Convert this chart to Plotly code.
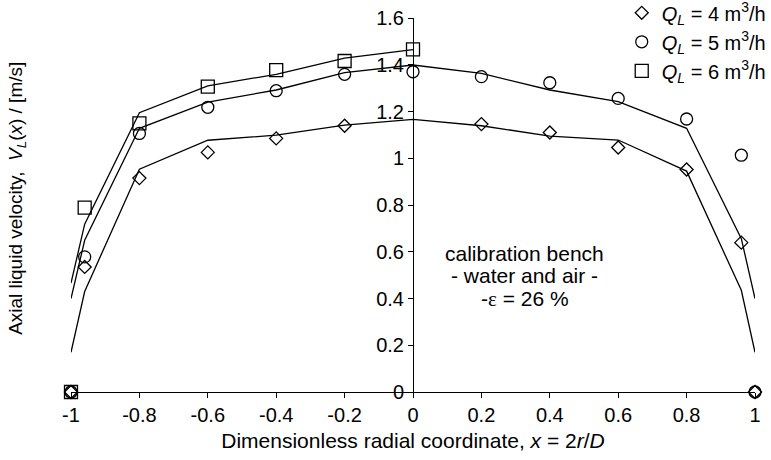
import plotly.graph_objects as go

FONT = "Liberation Sans, Arial, sans-serif"

# ---- data ----
q4_x = [-1, -0.96, -0.8, -0.6, -0.4, -0.2, 0.2, 0.4, 0.6, 0.8, 0.96, 1]
q4_y = [0, 0.535, 0.915, 1.025, 1.085, 1.139, 1.146, 1.110, 1.046, 0.952, 0.639, 0]

q5_x = [-1, -0.96, -0.8, -0.6, -0.4, -0.2, 0, 0.2, 0.4, 0.6, 0.8, 0.96, 1]
q5_y = [0, 0.578, 1.106, 1.218, 1.289, 1.359, 1.370, 1.349, 1.323, 1.256, 1.168, 1.013, 0]

q6_x = [-1, -0.96, -0.8, -0.6, -0.4, -0.2, 0]
q6_y = [0, 0.789, 1.149, 1.306, 1.377, 1.416, 1.466]

# model curves
line_x = [-1, -0.96, -0.8, -0.6, -0.4, -0.2, 0, 0.2, 0.4, 0.6, 0.8, 0.96, 1]
line4_y = [0.17, 0.43, 0.953, 1.077, 1.099, 1.142, 1.166, 1.139, 1.095, 1.078, 0.945, 0.435, 0.17]
line5_y = [0.40, 0.649, 1.128, 1.240, 1.292, 1.366, 1.399, 1.363, 1.292, 1.242, 1.128, 0.656, 0.40]
line6_x = [-1, -0.96, -0.8, -0.6, -0.4, -0.2, 0]
line6_y = [0.466, 0.718, 1.195, 1.310, 1.359, 1.428, 1.465]

x_tickvals = [-1, -0.8, -0.6, -0.4, -0.2, 0, 0.2, 0.4, 0.6, 0.8, 1]
x_ticktext = ["-1", "-0.8", "-0.6", "-0.4", "-0.2", "0", "0.2", "0.4", "0.6", "0.8", "1"]
y_tickvals = [0, 0.2, 0.4, 0.6, 0.8, 1, 1.2, 1.4, 1.6]
y_ticktext = ["0", "0.2", "0.4", "0.6", "0.8", "1", "1.2", "1.4", "1.6"]

series_names = [
    "<i>Q</i><sub><i>L</i></sub> = 4 m<sup>3</sup>/h",
    "<i>Q</i><sub><i>L</i></sub> = 5 m<sup>3</sup>/h",
    "<i>Q</i><sub><i>L</i></sub> = 6 m<sup>3</sup>/h",
]
note_lines = ["calibration bench", "- water and air -",
              "-<span style=\"font-family:'Liberation Serif', serif\">ε</span> = 26 %"]
note_y = [0.593, 0.499, 0.40]

fig = go.Figure()

line_style = dict(color="black", width=1.3)
for lx, ly in [(line_x, line4_y), (line_x, line5_y), (line6_x, line6_y)]:
    fig.add_trace(go.Scatter(x=lx, y=ly, mode="lines", line=line_style,
                             showlegend=False, hoverinfo="skip"))

mk_line = dict(color="black", width=1.3)
fig.add_trace(go.Scatter(x=q4_x, y=q4_y, mode="markers", name=series_names[0],
                         marker=dict(symbol="diamond-open", size=10, color="black", line=mk_line),
                         cliponaxis=False))
fig.add_trace(go.Scatter(x=q5_x, y=q5_y, mode="markers", name=series_names[1],
                         marker=dict(symbol="circle-open", size=12, color="black", line=mk_line),
                         cliponaxis=False))
fig.add_trace(go.Scatter(x=q6_x, y=q6_y, mode="markers", name=series_names[2],
                         marker=dict(symbol="square-open", size=13, color="black", line=mk_line),
                         cliponaxis=False))

for t, yy in zip(note_lines, note_y):
    fig.add_annotation(x=0.327, y=yy, xref="x", yref="y", text=t, showarrow=False,
                       font=dict(size=21, color="black", family=FONT),
                       xanchor="center", yanchor="middle")

fig.add_annotation(x=-0.079, y=0.519, xref="paper", yref="paper",
                   text="Axial liquid velocity,  <i>V</i><sub><i>L</i></sub>(<i>x</i>) / [m/s]",
                   textangle=-90, showarrow=False,
                   font=dict(size=19, color="black", family=FONT),
                   xanchor="center", yanchor="middle")

fig.update_layout(
    width=771, height=460,
    margin=dict(l=71, r=16, t=18, b=68, autoexpand=False),
    paper_bgcolor="white", plot_bgcolor="white",
    font=dict(family=FONT, size=20, color="black"),
    showlegend=True,
    legend=dict(x=1.023, y=1.066, xref="paper", yref="paper",
                xanchor="right", yanchor="top",
                bgcolor="rgba(0,0,0,0)", font=dict(size=20, family=FONT),
                tracegroupgap=0, itemwidth=30),
    xaxis=dict(range=[-1, 1], showline=True, linecolor="black", linewidth=1,
               ticks="outside", ticklen=5, tickcolor="black", tickwidth=1,
               tickvals=x_tickvals, ticktext=x_ticktext,
               showgrid=False, zeroline=False, automargin=False,
               tickfont=dict(size=20),
               title=dict(text="Dimensionless radial coordinate, <i>x</i> = 2<i>r</i>/<i>D</i>",
                          font=dict(size=21), standoff=8)),
    yaxis=dict(range=[0, 1.6], anchor="free", position=0.5,
               showline=True, linecolor="black", linewidth=1,
               ticks="outside", ticklen=5, tickcolor="black", tickwidth=1,
               tickvals=y_tickvals, ticktext=y_ticktext, automargin=False,
               showgrid=False, zeroline=False, tickfont=dict(size=20)),
)

fig.write_html("out.html")
